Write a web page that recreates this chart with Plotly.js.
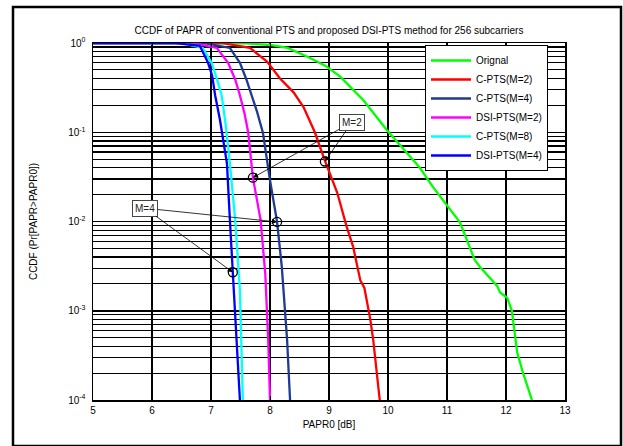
<!DOCTYPE html>
<html>
<head>
<meta charset="utf-8">
<script src="https://cdn.plot.ly/plotly-3.0.1.min.js"></script>
<style>
html,body{margin:0;padding:0;background:#fff;}
#chart{width:623px;height:446px;}
</style>
</head>
<body>
<div id="chart"></div>
<script>
// ---- data ----
const origX = [5, 7.2, 7.6, 8.0, 8.3, 8.68, 8.95, 9.19, 9.58, 9.98, 10.32, 10.54, 10.76, 11.02, 11.22, 11.47, 11.56, 11.85, 11.9, 12.02, 12.1, 12.19, 12.29, 12.44];
const origY = [1, 1, 0.99, 0.95, 0.88, 0.68, 0.55, 0.42, 0.23, 0.106, 0.059, 0.040, 0.0244, 0.0146, 0.0098, 0.0037, 0.0031, 0.0019, 0.0016, 0.0014, 0.001, 0.00034, 0.0002, 0.0001];

const cpts2X = [5, 7.2, 7.66, 7.95, 8.17, 8.40, 8.57, 8.76, 8.93, 9.14, 9.3, 9.41, 9.53, 9.6, 9.7, 9.75, 9.86];
const cpts2Y = [1, 0.995, 0.88, 0.62, 0.40, 0.28, 0.19, 0.10, 0.048, 0.021, 0.0087, 0.0052, 0.0022, 0.0018, 0.0008, 0.00047, 0.0001];

const cpts4X = [5, 6.9, 7.32, 7.49, 7.6, 7.69, 7.78, 7.88, 8.0, 8.12, 8.2, 8.29, 8.34];
const cpts4Y = [1, 0.995, 0.88, 0.6, 0.39, 0.26, 0.17, 0.099, 0.029, 0.0099, 0.0031, 0.00047, 0.0001];

const dsi2X = [5, 6.7, 7.10, 7.29, 7.41, 7.49, 7.57, 7.63, 7.71, 7.84, 7.92, 7.97, 8.0];
const dsi2Y = [1, 0.995, 0.88, 0.6, 0.39, 0.26, 0.16, 0.1, 0.031, 0.0105, 0.0026, 0.00047, 0.0001];

const cpts8X = [5, 6.5, 6.86, 7.01, 7.12, 7.18, 7.25, 7.32, 7.41, 7.49, 7.54];
const cpts8Y = [1, 0.995, 0.88, 0.6, 0.36, 0.26, 0.12, 0.045, 0.0105, 0.0017, 0.0001];

const dsi4X = [5, 6.4, 6.81, 6.95, 7.02, 7.07, 7.15, 7.27, 7.32, 7.37, 7.43, 7.49];
const dsi4Y = [1, 0.995, 0.93, 0.6, 0.43, 0.26, 0.14, 0.045, 0.0105, 0.0027, 0.0006, 0.0001];

// marked points (circles)
const markX = [8.93, 7.71, 8.12, 7.37];
const markY = [0.047, 0.031, 0.0099, 0.0027];

// labels
const seriesNames = ["Orignal", "C-PTS(M=2)", "C-PTS(M=4)", "DSI-PTS(M=2)", "C-PTS(M=8)", "DSI-PTS(M=4)"];
const seriesColors = ["#00ff00", "#ff0000", "#1f3a93", "#ff00ff", "#00ffff", "#0000ff"];
const xTicks = [5, 6, 7, 8, 9, 10, 11, 12, 13];
const yTicks = [1e-4, 1e-3, 1e-2, 1e-1, 1];
const yTickText = ["10<sup>-4</sup>", "10<sup>-3</sup>", "10<sup>-2</sup>", "10<sup>-1</sup>", "10<sup>0</sup>"];

// annotation labels and their box positions
const annLabels = ["M=2", "M=2", "M=4", "M=4"];
const annBoxX = [9.39, 9.39, 5.88, 5.88];
const annBoxY = [0.130, 0.130, 0.0141, 0.0141];

// ---- build ----
const xs = [origX, cpts2X, cpts4X, dsi2X, cpts8X, dsi4X];
const ys = [origY, cpts2Y, cpts4Y, dsi2Y, cpts8Y, dsi4Y];
const traces = xs.map((x, i) => ({
  x: x, y: ys[i], type: 'scatter', mode: 'lines', name: seriesNames[i],
  line: {color: seriesColors[i], width: 2.3}
}));
traces.push({
  x: markX, y: markY, type: 'scatter', mode: 'markers', showlegend: false,
  marker: {symbol: 'circle-open', size: 9, color: '#000', line: {width: 1.3, color: '#000'}}
});

const minorVals = [];
for (let d = -4; d < 0; d++) for (let k = 2; k <= 9; k++) minorVals.push(k * Math.pow(10, d));

const annotations = annLabels.map((t, i) => ({
  text: t, x: markX[i], y: Math.log10(markY[i]), xref: 'x', yref: 'y',
  ax: annBoxX[i], ay: Math.log10(annBoxY[i]), axref: 'x', ayref: 'y',
  showarrow: true, arrowhead: 2, arrowsize: 1.3, arrowwidth: 0.8, arrowcolor: '#000',
  bordercolor: '#444', borderwidth: 1, borderpad: 2, bgcolor: '#fff',
  font: {family: 'Liberation Sans, Arial, sans-serif', size: 10, color: '#222'}
}));

const font = {family: 'Liberation Sans, Arial, sans-serif', size: 10, color: '#000'};

const layout = {
  width: 623, height: 446,
  margin: {l: 93, r: 58, t: 43, b: 46},
  paper_bgcolor: '#fff', plot_bgcolor: '#fff',
  font: font,
  title: {text: 'CCDF of PAPR of conventional PTS and proposed DSI-PTS method for 256 subcarriers',
          font: {family: font.family, size: 10, color: '#000'}, x: 0.5, xref: 'paper', y: 1 - 30/446, yanchor: 'middle'},
  xaxis: {
    range: [5, 13], tickvals: xTicks, ticktext: xTicks.map(String),
    showgrid: true, gridcolor: '#000', gridwidth: 1.5,
    showline: true, mirror: 'ticks', linecolor: '#000', linewidth: 1.5,
    ticks: 'inside', ticklen: 4, tickcolor: '#000', zeroline: false,
    tickfont: font,
    title: {text: 'PAPR0 [dB]', font: font, standoff: 6}
  },
  yaxis: {
    type: 'log', range: [-4, 0], tickvals: yTicks, ticktext: yTickText,
    showgrid: true, gridcolor: '#000', gridwidth: 1.5,
    minor: {tickvals: minorVals, showgrid: true, gridcolor: '#000', gridwidth: 1.2, ticks: 'inside', ticklen: 2, tickcolor: '#000'},
    showline: true, mirror: 'ticks', linecolor: '#000', linewidth: 1.5,
    ticks: 'inside', ticklen: 4, tickcolor: '#000', zeroline: false,
    ticklabelstandoff: 4,
    tickfont: font,
    title: {text: 'CCDF (Pr[PAPR>PAPR0])', font: font, standoff: 28}
  },
  legend: {
    x: (425 - 93) / 472, y: (400 - 45) / 357, xanchor: 'left', yanchor: 'top',
    bgcolor: '#fff', bordercolor: '#000', borderwidth: 1,
    font: font, tracegroupgap: 0, itemwidth: 40, entrywidth: 136, entrywidthmode: 'pixels'
  },
  annotations: annotations,
  shapes: [{
    type: 'rect', xref: 'paper', yref: 'paper',
    x0: (13 - 93) / 472, x1: (621 - 93) / 472, y0: (400 - 446) / 357, y1: (400 - 7) / 357,
    line: {color: '#000', width: 2.5}, fillcolor: 'rgba(0,0,0,0)', layer: 'above'
  }]
};

Plotly.newPlot('chart', traces, layout, {displayModeBar: false, staticPlot: true});
</script>
</body>
</html>
